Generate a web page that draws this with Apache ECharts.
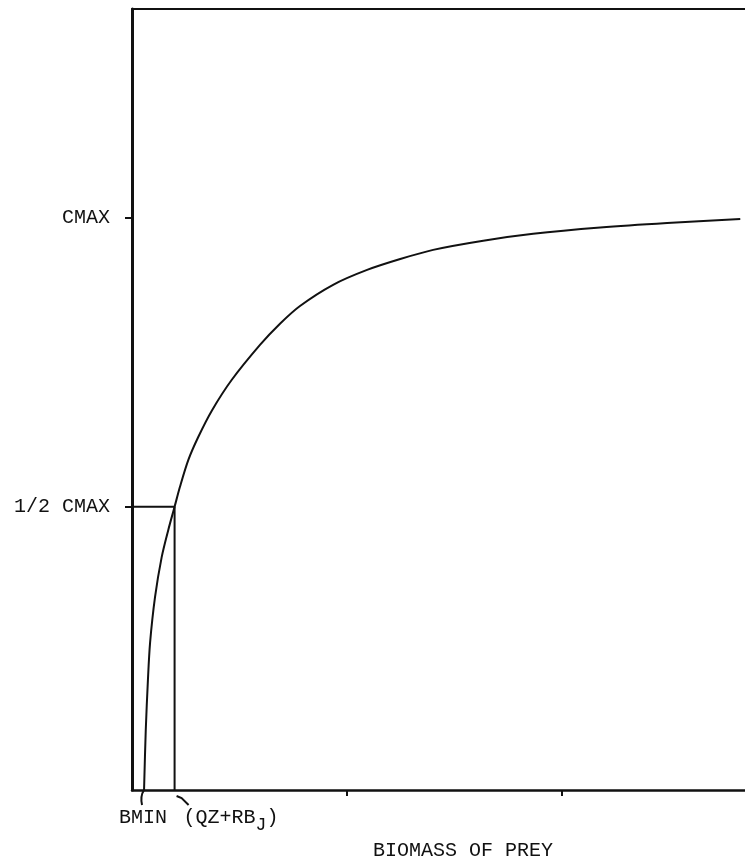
<!DOCTYPE html>
<html>
<head>
<meta charset="utf-8">
<script src="https://cdn.jsdelivr.net/npm/echarts@6/dist/echarts.min.js"></script>
<style>
html,body{margin:0;padding:0;background:#fff;}
#chart{width:745px;height:861px;}
</style>
</head>
<body>
<div id="chart"></div>
<script>
// Data (x in biomass units, y as fraction of CMAX)
const curveX = [0.056,0.064,0.074,0.084,0.107,0.138,0.169,0.198,0.223,0.262,0.308,0.371,0.464,0.595,0.688,0.781,0.935,1.093,1.247,1.400,1.633,1.865,2.177,2.488,2.828];
const curveY = [0,0.105,0.192,0.257,0.337,0.407,0.455,0.495,0.530,0.577,0.617,0.663,0.717,0.778,0.815,0.846,0.883,0.909,0.928,0.944,0.960,0.972,0.983,0.991,0.998];
const BMIN = 0.056;
const HALF_X = 0.198;
const HALF_Y = 0.495;
const CMAX = 1;
const yTickValues = [HALF_Y, CMAX];
const yTickLabels = ['1/2 CMAX', 'CMAX'];
const xTickValues = [1, 2];
const xTitle = 'BIOMASS OF PREY';

const FONT = "'Liberation Mono', 'DejaVu Sans Mono', monospace";
const INK = '#111';

const chart = echarts.init(document.getElementById('chart'), null, {renderer: 'canvas'});

const option = {
  backgroundColor: '#fff',
  animation: false,
  title: {
    text: xTitle,
    left: 368,
    top: 836,
    textStyle: {fontFamily: FONT, fontSize: 20, fontWeight: 'normal', color: INK}
  },
  grid: {left: 132, right: 0, top: 9, bottom: 71, containLabel: false},
  xAxis: [{
    type: 'value', min: 0, max: 2.85, interval: 1,
    axisLine: {show: true, onZero: false, lineStyle: {color: INK, width: 2.5}},
    axisTick: {show: true, inside: false, length: 6, lineStyle: {color: INK, width: 2}, customValues: xTickValues},
    axisLabel: {show: false},
    splitLine: {show: false}
  }, {
    type: 'value', min: 0, max: 2.85, position: 'top',
    axisLine: {show: true, onZero: false, lineStyle: {color: INK, width: 2}},
    axisTick: {show: false}, axisLabel: {show: false}, splitLine: {show: false}
  }],
  yAxis: {
    type: 'value', min: 0, max: 1.365,
    axisLine: {show: true, onZero: false, lineStyle: {color: INK, width: 3}},
    axisTick: {show: true, length: 7, lineStyle: {color: INK, width: 2}, customValues: yTickValues},
    axisLabel: {
      show: true, margin: 22, customValues: yTickValues,
      fontFamily: FONT, fontSize: 20, color: INK,
      formatter: function (v) {
        const i = yTickValues.findIndex(t => Math.abs(t - v) < 1e-6);
        return i >= 0 ? yTickLabels[i] : '';
      }
    },
    splitLine: {show: false}
  },
  series: [{
    type: 'line', xAxisIndex: 0,
    data: curveX.map((x, i) => [x, curveY[i]]),
    smooth: 0.3, showSymbol: false, symbol: 'none',
    lineStyle: {color: INK, width: 2}
  }, {
    type: 'line', xAxisIndex: 0,
    data: [[0, HALF_Y], [HALF_X, HALF_Y], [HALF_X, 0]],
    showSymbol: false, symbol: 'none',
    lineStyle: {color: INK, width: 2}
  }]
};
chart.setOption(option);

function px(x, y) { return chart.convertToPixel({xAxisIndex: 0, yAxisIndex: 0}, [x, y]); }
const pB = px(BMIN, 0);
const pH = px(HALF_X, 0);
chart.setOption({
  graphic: [
    {type: 'bezierCurve', shape: {x1: pB[0], y1: pB[1], cpx1: pB[0] - 4, cpy1: pB[1] + 6, x2: pB[0] - 2, y2: pB[1] + 15}, style: {stroke: INK, lineWidth: 2, fill: null}},
    {type: 'polyline', shape: {points: [[pH[0] + 2, pH[1] + 6], [pH[0] + 7, pH[1] + 8], [pH[0] + 14, pH[1] + 15]]}, style: {stroke: INK, lineWidth: 2, fill: null}},
    {type: 'text', x: pB[0] - 1, y: pB[1] + 28, style: {text: 'BMIN', font: "20px " + FONT, fill: INK, textAlign: 'center', textVerticalAlign: 'middle'}},
    {type: 'text', x: pH[0] + 9, y: pH[1] + 28, style: {
      text: '{a|(QZ+RB}{s|J}{a|)}', fill: INK, textAlign: 'left', textVerticalAlign: 'middle',
      rich: {
        a: {fontFamily: FONT, fontSize: 20, fill: INK},
        s: {fontFamily: FONT, fontSize: 18, fill: INK, padding: [14, 0, 0, 0]}
      }
    }}
  ]
});
</script>
</body>
</html>
